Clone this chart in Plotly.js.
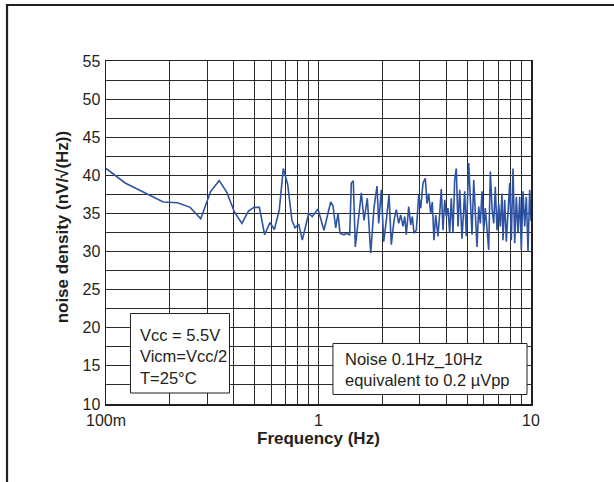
<!DOCTYPE html>
<html>
<head>
<meta charset="utf-8">
<script src="https://cdn.plot.ly/plotly-3.0.1.min.js"></script>
<style>html,body{margin:0;padding:0;background:#fff;}#chart{width:614px;height:482px;}</style>
</head>
<body>
<div id="chart"></div>
<script>
// Frequency (Hz)
const freq = [
  0.100, 0.123, 0.186, 0.217, 0.249, 0.279, 0.311, 0.341, 0.370, 0.402,
  0.436, 0.468, 0.497, 0.527, 0.558, 0.591, 0.620, 0.654, 0.683, 0.716,
  0.750, 0.775, 0.807, 0.839, 0.899, 0.935, 0.994,
  1.061, 1.141, 1.170, 1.205, 1.236, 1.262, 1.318, 1.351, 1.402, 1.427,
  1.458, 1.490, 1.535, 1.591, 1.638, 1.697, 1.761, 1.824, 1.885, 1.920,
  1.975, 2.027, 2.085, 2.147, 2.201, 2.267, 2.323, 2.385, 2.437, 2.498,
  2.545, 2.589, 2.658, 2.716, 2.764, 2.815, 2.886, 2.962, 3.027, 3.103,
  3.181, 3.240, 3.300, 3.373, 3.431, 3.495, 3.560, 3.650, 3.718, 3.783,
  3.853, 3.925, 3.993, 4.067, 4.143, 4.216, 4.294, 4.374, 4.451, 4.534,
  4.618, 4.735, 4.875, 4.960, 5.091, 5.181, 5.277, 5.375, 5.469, 5.571,
  5.675, 5.774, 5.881, 5.990, 6.095, 6.208, 6.323, 6.435, 6.554, 6.676,
  6.792, 6.918, 7.047, 7.170, 7.303, 7.382, 7.520, 7.653, 7.795, 7.940,
  8.078, 8.229, 8.382, 8.528, 8.686, 8.848, 9.004, 9.171, 9.342, 9.504,
  9.681, 9.860, 10.0
];
// Noise density (nV/√Hz)
const noise = [
  40.9, 39.0, 36.5, 36.4, 35.8, 34.3, 37.9, 39.3, 37.8, 35.2,
  33.7, 35.3, 35.8, 35.8, 32.2, 33.8, 32.9, 35.5, 40.9, 38.8,
  34.1, 33.1, 33.6, 31.5, 35.0, 34.6, 35.6,
  32.8, 36.5, 36.0, 33.1, 35.0, 32.4, 32.2, 32.4, 32.2, 39.0,
  39.3, 30.6, 33.7, 37.7, 34.1, 37.0, 29.8, 35.7, 38.6, 33.7,
  38.1, 31.3, 34.1, 37.4, 30.9, 34.1, 35.5, 33.7, 34.8, 33.3,
  34.6, 32.2, 35.9, 33.5, 34.6, 32.4, 32.8, 37.4, 35.7, 39.0,
  39.6, 36.3, 37.6, 35.0, 36.5, 31.5, 34.8, 32.0, 35.0, 38.2,
  32.8, 36.8, 34.6, 35.7, 32.4, 37.0, 32.4, 39.4, 40.9, 33.3,
  38.1, 31.7, 37.9, 32.0, 41.6, 36.8, 32.2, 39.4, 34.6, 30.6,
  35.9, 33.7, 37.9, 32.6, 35.7, 32.8, 30.2, 40.5, 35.7, 33.7,
  38.5, 32.8, 36.3, 33.3, 37.6, 31.5, 36.8, 31.3, 35.7, 39.0,
  31.5, 40.9, 31.1, 37.2, 32.4, 37.2, 30.2, 37.9, 33.3, 37.2,
  30.0, 38.1, 34.0
];

const xTickVals = [0.1,0.2,0.3,0.4,0.5,0.6,0.7,0.8,0.9,1,2,3,4,5,6,7,8,9,10];
const xTickText = ['100m','','','','','','','','','1','','','','','','','','','10'];
const yTickVals = [10,12.5,15,17.5,20,22.5,25,27.5,30,32.5,35,37.5,40,42.5,45,47.5,50,52.5,55];
const yTickText = ['10','','15','','20','','25','','30','','35','','40','','45','','50','','55'];

const infoLeft = 'Vcc = 5.5V<br>Vicm=Vcc/2<br>T=25°C';
const infoRight = 'Noise 0.1Hz_10Hz<br>equivalent to 0.2 µVpp';
const xTitle = 'Frequency (Hz)';
const yTitle = 'noise density (nV/√(Hz))';

const ink = '#231f20';
const font = 'Arial, "Liberation Sans", Helvetica, sans-serif';

const trace = {
  x: freq, y: noise, type: 'scatter', mode: 'lines',
  line: {color: '#2f53a3', width: 1.6},
  hoverinfo: 'skip'
};

const layout = {
  width: 614, height: 482,
  margin: {l: 106, r: 83, t: 61, b: 78},
  paper_bgcolor: '#fff', plot_bgcolor: '#fff',
  showlegend: false,
  font: {family: font, color: ink, size: 16},
  xaxis: {
    type: 'log', range: [-1, 1],
    tickmode: 'array', tickvals: xTickVals, ticktext: xTickText,
    ticks: '', showgrid: true, gridcolor: '#2a2a2a', gridwidth: 1,
    showline: true, linecolor: ink, linewidth: 1.5, mirror: true,
    zeroline: false, ticklabelstandoff: 1,
    tickfont: {size: 16, color: ink}
  },
  yaxis: {
    range: [10, 55],
    tickmode: 'array', tickvals: yTickVals, ticktext: yTickText,
    ticks: '', showgrid: true, gridcolor: '#2a2a2a', gridwidth: 1,
    showline: true, linecolor: ink, linewidth: 1.5, mirror: true,
    zeroline: false, ticklabelstandoff: 1,
    tickfont: {size: 16, color: ink}
  },
  shapes: [
    {type: 'rect', xref: 'paper', yref: 'paper', x0: 0.0576, x1: 0.2906, y0: 0.0321, y1: 0.2638,
     fillcolor: '#fff', line: {color: ink, width: 1}, layer: 'above'},
    {type: 'rect', xref: 'paper', yref: 'paper', x0: 0.534, x1: 0.9906, y0: 0.0277, y1: 0.1764,
     fillcolor: '#fff', line: {color: ink, width: 1}, layer: 'above'},
    {type: 'path', xref: 'paper', yref: 'paper',
     path: 'M -0.2329 -0.24 L -0.2329 1.1633 L 1.2 1.1633',
     line: {color: ink, width: 2.2}, layer: 'above'}
  ],
  annotations: [
    {xref: 'paper', yref: 'paper', x: 0.0753, y: 0.138, xanchor: 'left', yanchor: 'middle',
     text: infoLeft, align: 'left', showarrow: false, font: {size: 16.5, color: ink}},
    {xref: 'paper', yref: 'paper', x: 0.5576, y: 0.102, xanchor: 'left', yanchor: 'middle',
     text: infoRight, align: 'left', showarrow: false, font: {size: 16.5, color: ink}},
    {xref: 'paper', yref: 'paper', x: -0.1035, y: 0.515, xanchor: 'center', yanchor: 'middle',
     text: yTitle, textangle: -90, showarrow: false,
     font: {size: 17, color: ink, weight: 'bold'}},
    {xref: 'paper', yref: 'paper', x: 0.5, y: -0.1, xanchor: 'center', yanchor: 'middle',
     text: xTitle, showarrow: false,
     font: {size: 17, color: ink, weight: 'bold'}}
  ]
};

Plotly.newPlot('chart', [trace], layout, {staticPlot: true, displayModeBar: false});
</script>
</body>
</html>
